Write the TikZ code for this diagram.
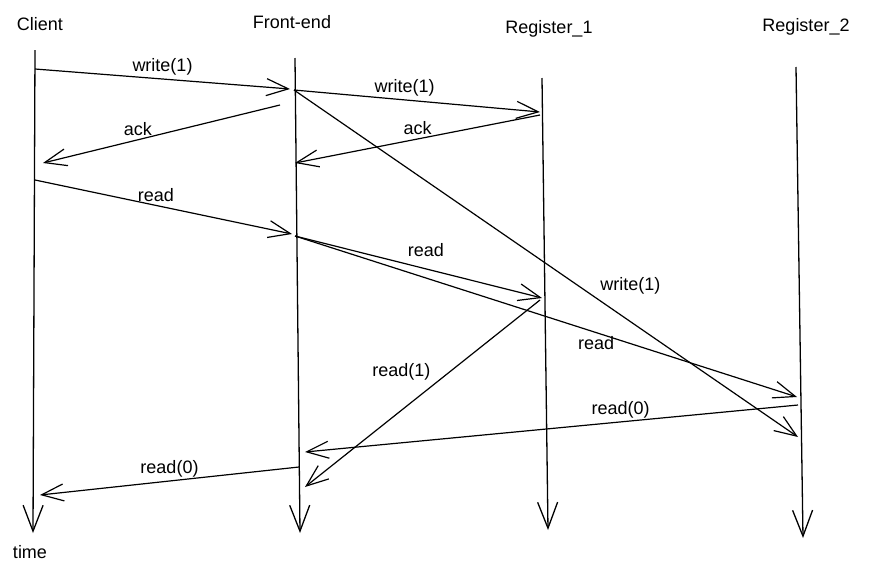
\documentclass[tikz,border=0pt]{standalone}
\usepackage{fontspec}
\setmainfont{Liberation Sans}
\usetikzlibrary{arrows.meta}

\begin{document}
\begin{tikzpicture}[x=1pt, y=-1pt, font=\fontsize{18}{20}\selectfont,
  lane/.style={line width=1.3pt, -{Straight Barb[length=26pt, width=20pt]}},
  msg/.style={line width=1.2pt, -{Straight Barb[length=22pt, width=17pt]}}]

\useasboundingbox (0,0) rectangle (872,576);

% lifelines
\foreach \n/\l/\lx/\ly/\tx/\ty/\bx/\by in {client/Client/40/24/35/50/33/533,
    front/Front-end/292/22/295/58/300/533,
    reg1/Register\_1/549/29/542/78/548/530,
    reg2/Register\_2/806/27/796/67/803/538}
{
  \node (\n) at (\lx,\ly) {\l};
  \coordinate (\n-top) at (\tx,\ty);
  \coordinate (\n-bot) at (\bx,\by);
  \draw [lane] (\n-top) -- (\n-bot);
}
\node (time) at (30,552) {time};

% points on the lifelines
\coordinate (c-w) at (35,69);
\coordinate (c-ack) at (43,163);
\coordinate (c-r) at (35,180);
\coordinate (c-r0) at (40,495);
\coordinate (f-wi) at (290,89);
\coordinate (f-w) at (294,90);
\coordinate (f-acko) at (280,105);
\coordinate (f-acki) at (295,163);
\coordinate (f-ri) at (292,234);
\coordinate (f-r) at (295,236);
\coordinate (f-r0i) at (305,452);
\coordinate (f-r1i) at (305,487);
\coordinate (f-r0o) at (299,467);
\coordinate (r1-w) at (540,112);
\coordinate (r1-ack) at (540,115);
\coordinate (r1-r) at (542,298);
\coordinate (r1-r1) at (540,300);
\coordinate (r2-r) at (797,397);
\coordinate (r2-w) at (798,437);
\coordinate (r2-r0) at (798,405);

% messages
\draw [msg] (c-w) -- (f-wi) node [above, midway] {write(1)};
\draw [msg] (f-w) -- (r1-w) node [above, pos=0.45] {write(1)};
\draw [msg] (r1-ack) -- (f-acki) node [above, midway] {ack};
\draw [msg] (f-acko) -- (c-ack) node [above, pos=0.6] {ack};
\draw [msg] (f-w) -- (r2-w) node [above right, pos=0.6] {write(1)};
\draw [msg] (c-r) -- (f-ri) node [above, pos=0.47] {read};
\draw [msg] (f-r) -- (r1-r) node [above=8pt, pos=0.53] {read};
\draw [msg] (f-r) -- (r2-r) node [below, pos=0.6] {read};
\draw [msg] (r2-r0) -- (f-r0i) node [above, pos=0.36] {read(0)};
\draw [msg] (r1-r1) -- (f-r1i) node [above left, pos=0.45] {read(1)};
\draw [msg] (f-r0o) -- (c-r0) node [above, midway] {read(0)};

\end{tikzpicture}
\end{document}
